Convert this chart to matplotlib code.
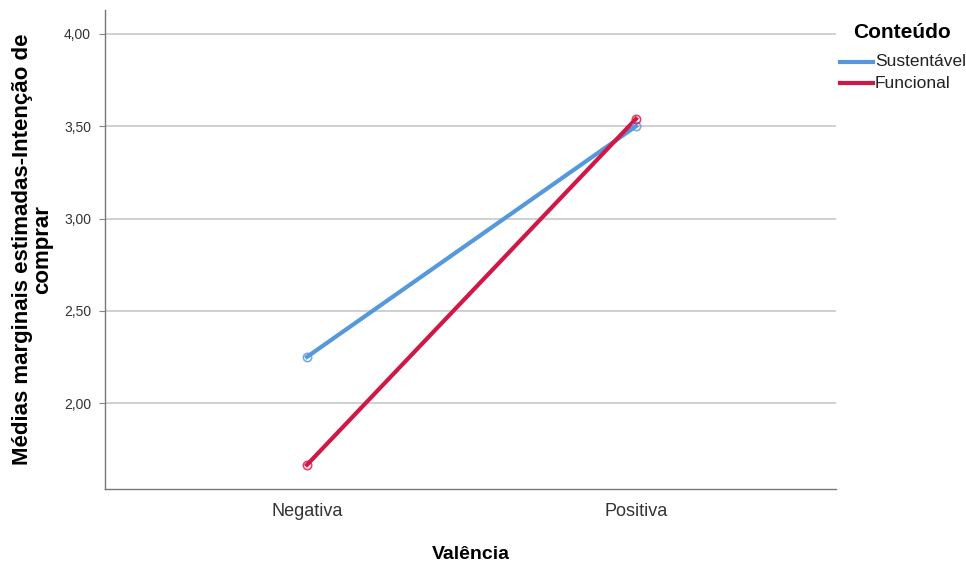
import matplotlib
matplotlib.use("Agg")
import matplotlib.pyplot as plt
from matplotlib.lines import Line2D

plt.rcParams['font.family'] = ['Liberation Sans', 'DejaVu Sans']

categories = ["Negativa", "Positiva"]
series_names = ["Sustentável", "Funcional"]
sustentavel = [2.25, 3.50]
funcional = [1.665, 3.54]
yticks = [2.00, 2.50, 3.00, 3.50, 4.00]
ytick_labels = ["2,00", "2,50", "3,00", "3,50", "4,00"]
colors = ["#5598DC", "#D11745"]

W, H = 966, 562
fig = plt.figure(figsize=(W/100, H/100), dpi=100)
ax = fig.add_axes([105/W, 1-489/H, (836-105)/W, (489-10)/H])

x = list(range(len(categories)))
for vals, c, name in zip([sustentavel, funcional], colors, series_names):
    ax.plot(x, vals, color=c, lw=3, zorder=3)
    ax.plot(x, vals, linestyle='none', marker='o', markersize=6, markerfacecolor='none',
            markeredgecolor=c, markeredgewidth=1.2, alpha=0.8, zorder=4)

ax.set_xlim(-0.614, 1.608)
ax.set_ylim(1.534, 4.13)
ax.set_yticks(yticks)
ax.set_yticklabels(ytick_labels, fontsize=10, color="#333333")
ax.set_xticks(x)
ax.set_xticklabels(categories, fontsize=13, color="#333333")
ax.tick_params(axis='x', length=0, pad=10)
ax.tick_params(axis='y', length=4, color="#888888", pad=6)
ax.yaxis.grid(True, color="#C8C8C8", lw=1.2)
ax.set_axisbelow(True)
for s in ['top', 'right']:
    ax.spines[s].set_visible(False)
for s in ['left', 'bottom']:
    ax.spines[s].set_color("#777777")
    ax.spines[s].set_linewidth(1.0)

ax.set_ylabel("Médias marginais estimadas-Intenção de\ncomprar", fontsize=16,
              fontweight='bold', labelpad=8, linespacing=0.95)
ax.set_xlabel("Valência", fontsize=14, fontweight='bold', labelpad=19)

# legend drawn in figure pixel coordinates
fig.text(853/W, 1-32/H, "Conteúdo", fontsize=15, fontweight='bold', ha='left', va='center')
for i, (c, name) in enumerate(zip(colors, series_names)):
    yy = 1-(62+21*i)/H
    fig.add_artist(Line2D([840/W, 873/W], [yy, yy], color=c, lw=3, transform=fig.transFigure))
    fig.text(875/W, yy, name, fontsize=12.5, ha='left', va='center', color="#222222")

fig.savefig("out.png", dpi=100)
